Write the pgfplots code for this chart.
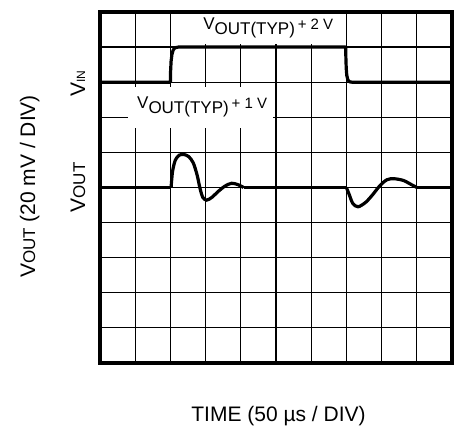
\documentclass[border=0pt]{standalone}
\usepackage{pgfplots}
\pgfplotsset{compat=1.18}
\usepackage{fontspec}
\setmainfont{Liberation Sans}
\begin{document}
\begin{tikzpicture}
\useasboundingbox (0,0) rectangle (461pt,427pt);
\begin{axis}[
  at={(100pt,64pt)}, anchor=south west,
  scale only axis, width=352pt, height=351pt,
  xmin=0, xmax=10, ymin=0, ymax=10,
  xtick={0,1,...,10}, ytick={0,1,...,10},
  xticklabels={}, yticklabels={},
  major tick length=0pt,
  grid=major,
  grid style={black, line width=1.2pt},
  axis line style={line width=3.2pt},
  clip=false,
]
% VIN trace
\addplot[black, line width=3.2pt, line join=round] coordinates {
 (0,8) (2.0,8) (2.005,8.3) (2.02,8.6) (2.045,8.8) (2.08,8.92) (2.13,8.98) (2.22,9.0)
 (6.98,9.0) (6.985,8.7) (6.995,8.4) (7.01,8.2) (7.04,8.07) (7.09,8.01) (7.16,8.0) (10,8)
};
% VOUT trace
\addplot[black, line width=3.2pt] coordinates {(0,5) (2.02,5)};
\addplot[black, line width=3.2pt, smooth, tension=0.5] coordinates {
 (2.02,5) (2.06,5.45) (2.14,5.78) (2.25,5.92) (2.38,5.94) (2.52,5.88)
 (2.65,5.7) (2.76,5.35) (2.84,4.98) (2.92,4.72) (3.03,4.64) (3.18,4.72)
 (3.35,4.88) (3.55,5.04) (3.74,5.12) (3.92,5.08) (4.08,5.0)
};
\addplot[black, line width=3.2pt] coordinates {(4.08,5) (7.0,5)};
\addplot[black, line width=3.2pt, smooth, tension=0.5] coordinates {
 (7.0,5) (7.08,4.8) (7.18,4.55) (7.33,4.45) (7.55,4.58) (7.75,4.8)
 (7.95,5.05) (8.15,5.22) (8.35,5.25) (8.62,5.2) (8.85,5.08) (9.0,5.0)
};
\addplot[black, line width=3.2pt] coordinates {(9.0,5) (10,5)};
% label boxes
\fill[white] (axis cs:2.08,9.1) rectangle (axis cs:6.95,9.93);
\fill[white] (axis cs:0.8,6.7) rectangle (axis cs:4.91,7.87);
\node[anchor=base west, inner sep=0pt, font=\fontsize{17}{20}\selectfont] at (axis cs:2.93,9.49)
 {V\raisebox{-5pt}{OUT(TYP)}\,{\fontsize{15}{18}\selectfont + 2 V}};
\node[anchor=base west, inner sep=0pt, font=\fontsize{17}{20}\selectfont] at (axis cs:1.05,7.26)
 {V\raisebox{-5pt}{OUT(TYP)}\,{\fontsize{15}{18}\selectfont + 1 V}};
\end{axis}
\node[rotate=90, anchor=base, inner sep=0pt] at (85pt,343.5pt)
 {\fontsize{21}{24}\selectfont V{\fontsize{12}{14}\selectfont IN}};
\node[rotate=90, anchor=base, inner sep=0pt] at (85pt,239.5pt)
 {\fontsize{21}{24}\selectfont V{\fontsize{17}{20}\selectfont OUT}};
\node[rotate=90, anchor=base, inner sep=0pt] at (35pt,240.5pt)
 {\fontsize{21}{24}\selectfont V{\fontsize{17}{20}\selectfont OUT} (20 mV / DIV)};
\node[anchor=base, inner sep=0pt] at (278.5pt,5pt)
 {\fontsize{21}{24}\selectfont TIME (50 µs / DIV)};
\end{tikzpicture}
\end{document}
